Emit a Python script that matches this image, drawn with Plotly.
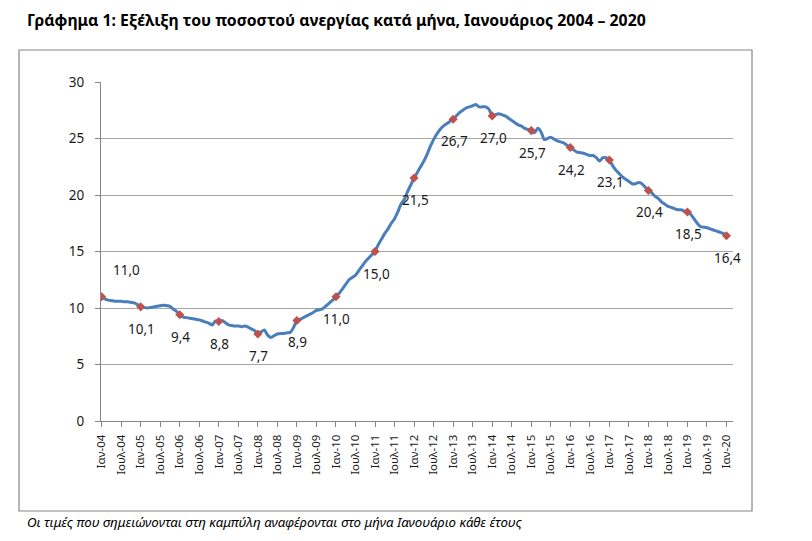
import plotly.graph_objects as go

# ---- data ----
month_names = ["Ιαν", "Φεβ", "Μαρ", "Απρ", "Μαϊ", "Ιουν",
               "Ιουλ", "Αυγ", "Σεπ", "Οκτ", "Νοε", "Δεκ"]
years = list(range(2004, 2021))

unemployment = [
    # 2004
    11.0, 10.8, 10.7, 10.65, 10.6, 10.6, 10.6, 10.55, 10.55, 10.5, 10.45, 10.3,
    # 2005
    10.1, 10.05, 10.0, 10.05, 10.1, 10.15, 10.2, 10.25, 10.2, 10.15, 9.9, 9.7,
    # 2006
    9.4, 9.2, 9.15, 9.1, 9.05, 9.0, 8.95, 8.85, 8.75, 8.65, 8.5, 8.85,
    # 2007
    8.8, 8.9, 8.7, 8.5, 8.45, 8.4, 8.4, 8.35, 8.4, 8.3, 8.15, 8.0,
    # 2008
    7.7, 7.9, 8.05, 7.6, 7.4, 7.55, 7.7, 7.75, 7.75, 7.8, 7.85, 8.3,
    # 2009
    8.9, 9.0, 9.15, 9.3, 9.45, 9.6, 9.8, 9.85, 9.95, 10.2, 10.45, 10.7,
    # 2010
    11.0, 11.3, 11.7, 12.1, 12.5, 12.7, 12.9, 13.3, 13.7, 14.1, 14.4, 14.7,
    # 2011
    15.0, 15.6, 16.1, 16.6, 17.0, 17.5, 17.9, 18.5, 19.2, 19.6, 20.3, 20.9,
    # 2012
    21.5, 22.0, 22.5, 23.0, 23.6, 24.3, 24.9, 25.4, 25.8, 26.1, 26.3, 26.5,
    # 2013
    26.7, 27.0, 27.3, 27.5, 27.7, 27.8, 27.9, 28.0, 27.8, 27.8, 27.8, 27.6,
    # 2014
    27.0, 27.1, 27.2, 27.1, 27.0, 26.8, 26.6, 26.4, 26.2, 26.1, 25.9, 25.8,
    # 2015
    25.7, 25.5, 25.9, 25.6, 24.9, 25.0, 25.1, 24.95, 24.8, 24.7, 24.6, 24.4,
    # 2016
    24.2, 24.0, 23.8, 23.75, 23.7, 23.6, 23.5, 23.5, 23.3, 23.0, 23.3, 23.3,
    # 2017
    23.1, 22.6, 22.2, 21.9, 21.6, 21.4, 21.2, 21.0, 21.0, 21.1, 21.0, 20.7,
    # 2018
    20.4, 20.2, 19.9, 19.7, 19.4, 19.2, 19.0, 18.9, 18.8, 18.7, 18.7, 18.6,
    # 2019
    18.5, 18.3, 17.9, 17.5, 17.2, 17.15, 17.1, 17.0, 16.9, 16.8, 16.7, 16.6,
    # 2020
    16.4,
]

january_values = [11.0, 10.1, 9.4, 8.8, 7.7, 8.9, 11.0, 15.0, 21.5,
                  26.7, 27.0, 25.7, 24.2, 23.1, 20.4, 18.5, 16.4]

title_text = "Γράφημα 1: Εξέλιξη του ποσοστού ανεργίας κατά μήνα, Ιανουάριος 2004 – 2020"
note_text = "Οι τιμές που σημειώνονται στη καμπύλη αναφέρονται στο μήνα Ιανουάριο κάθε έτους"

# ---- derived ----
months = [f"{m}-{str(y)[2:]}" for y in years for m in month_names][:len(unemployment)]
jan_labels = [f"Ιαν-{str(y)[2:]}" for y in years]
tick_vals = months[::6]
jan_text = [f"{v:.1f}".replace(".", ",") for v in january_values]

FONT = "Noto Sans"
TXT = "#1a1a1a"
GRID = "#a6a6a6"

fig = go.Figure()
fig.add_trace(go.Scatter(
    x=months, y=unemployment, mode="lines",
    line=dict(color="#4a7ebb", width=3, shape="spline", smoothing=0.6),
    hoverinfo="x+y", showlegend=False,
))
fig.add_trace(go.Scatter(
    x=jan_labels, y=january_values, mode="markers",
    marker=dict(symbol="diamond", size=7, color="#c0504d"),
    showlegend=False,
))

for i, (xv, yv, t) in enumerate(zip(jan_labels, january_values, jan_text)):
    if i == 0:
        xs, ys = 25, 27
    else:
        xs, ys = 1, -22
    fig.add_annotation(x=xv, y=yv, text=t, showarrow=False,
                       xshift=xs, yshift=ys,
                       font=dict(family=FONT, size=13.5, color=TXT))

# page has an 8px body margin; work in screen coordinates and subtract it
OFF = 8
W, H = 812 - OFF, 541 - OFF
plot_l, plot_r, plot_t, plot_b = 101, 733, 82, 421  # screen coords
L = plot_l - OFF
R = W - (plot_r - OFF)
T = plot_t - OFF
B = H - (plot_b - OFF)
pw, ph = W - L - R, H - T - B

def px(x):
    return (x - OFF - L) / pw

def py(y):
    return (H - B - (y - OFF)) / ph

fig.add_shape(type="rect", xref="paper", yref="paper",
              x0=px(19), x1=px(752), y0=py(511), y1=py(50),
              line=dict(color="#868686", width=1.2), layer="below")

fig.add_annotation(xref="paper", yref="paper", x=px(25), y=py(20),
                   xanchor="left", yanchor="middle", showarrow=False,
                   text=f"<b>{title_text}</b>",
                   font=dict(family=FONT, size=15.8, color="#000000"))
fig.add_annotation(xref="paper", yref="paper", x=px(25), y=py(522),
                   xanchor="left", yanchor="middle", showarrow=False,
                   text=f"<i>{note_text}</i>",
                   font=dict(family=FONT, size=13.3, color="#000000"))

fig.update_layout(
    width=W, height=H,
    margin=dict(l=L, r=R, t=T, b=B),
    paper_bgcolor="white", plot_bgcolor="white",
    font=dict(family=FONT, color=TXT),
    showlegend=False,
)
fig.update_xaxes(
    type="category", categoryorder="array", categoryarray=months,
    range=[-0.2, 194],
    tickmode="array", tickvals=tick_vals, ticktext=tick_vals,
    tickangle=-90, tickfont=dict(family=FONT, size=11.5, color=TXT),
    ticks="outside", ticklen=5, tickcolor="#868686", ticklabelstandoff=3,
    showline=True, linecolor="#868686", linewidth=1,
    showgrid=False, zeroline=False,
)
fig.update_yaxes(
    range=[0, 30], tickmode="linear", dtick=5, tick0=0,
    tickfont=dict(family=FONT, size=13.5, color=TXT),
    ticks="outside", ticklen=5, tickcolor="#868686", ticklabelstandoff=8,
    showline=True, linecolor="#868686", linewidth=1,
    showgrid=True, gridcolor=GRID, gridwidth=1, zeroline=False,
)

fig.write_html("out.html")
